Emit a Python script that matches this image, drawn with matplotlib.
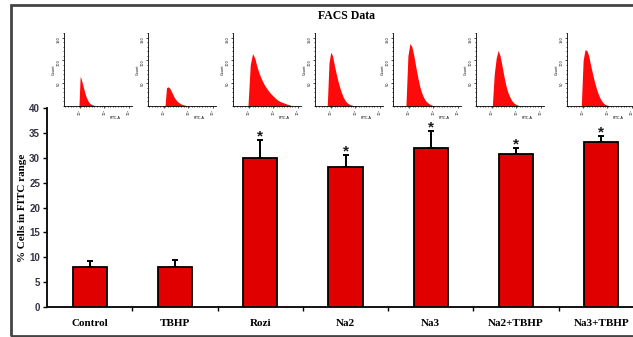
import matplotlib
matplotlib.use("Agg")
import matplotlib.pyplot as plt
import numpy as np
from matplotlib.patches import Rectangle

# ---------------- data ----------------
categories = ["Control", "TBHP", "Rozi", "Na2", "Na3", "Na2+TBHP", "Na3+TBHP"]
values = [8.0, 8.1, 30.0, 28.1, 32.0, 30.75, 33.2]
errors = [1.25, 1.3, 3.6, 2.5, 3.3, 1.25, 1.1]
significant = [False, False, True, True, True, True, True]
y_ticks = [0, 5, 10, 15, 20, 25, 30, 35, 40]

# FACS histogram insets (heights in counts)
hist_start = [0.22, 0.25, 0.22, 0.18, 0.19, 0.24, 0.21]
hist_end = [0.45, 0.58, 0.86, 0.57, 0.60, 0.64, 0.62]
hist_heights = [
    [0, 65, 58, 48, 38, 28, 20, 14, 9, 6, 4, 3, 2, 0],
    [0, 40, 42, 40, 34, 27, 20, 15, 11, 8, 6, 4, 3, 2, 1, 0],
    [0, 90, 115, 105, 85, 70, 58, 48, 40, 33, 27, 22, 17, 13, 10, 8, 6, 4, 3, 0],
    [0, 95, 118, 110, 90, 72, 56, 42, 30, 20, 13, 8, 5, 3, 2, 0],
    [0, 110, 137, 130, 110, 85, 62, 42, 28, 18, 11, 7, 4, 2, 0],
    [0, 70, 105, 122, 110, 88, 65, 45, 30, 20, 12, 7, 4, 2, 0],
    [0, 100, 123, 122, 110, 90, 72, 55, 40, 28, 18, 11, 6, 3, 2, 0],
]
inset_left_px = [64, 148, 233, 315, 393, 476, 567]
inset_ticklabels = ["10\u00b2", "10\u00b3", "10\u2074"]
inset_yticklabels = ["50", "100", "150"]

# ---------------- figure ----------------
W, H = 633, 337
fig = plt.figure(figsize=(W / 100, H / 100), dpi=100)
RED = "#E00000"
serif = "Liberation Serif"
sans = "Liberation Sans"

# outer border
fig.patches.append(Rectangle((11 / W, 1 - 336 / H), 640 / W, 331 / H,
                             transform=fig.transFigure, fill=False,
                             edgecolor="#444444", linewidth=2))

ax_l, ax_r = 47, 633
ax_b, ax_t = 307, 108
ax = fig.add_axes([ax_l / W, 1 - ax_b / H, (ax_r - ax_l) / W, (ax_b - ax_t) / H])
x = np.arange(len(categories))
ax.bar(x, values, width=0.40, color=RED, edgecolor="black", linewidth=1.3, zorder=3)
ax.errorbar(x, values, yerr=[np.zeros(len(errors)), errors], fmt="none",
            ecolor="black", elinewidth=1.4, capsize=2.5, capthick=1.4, zorder=2)
for xi, v, e, s in zip(x, values, errors, significant):
    if s:
        ax.text(xi, v + e - 0.7, "*", ha="center", va="bottom", fontsize=11,
                fontweight="bold", family=sans, color="#1a1a1a")

ax.set_xlim(-0.5, 6.37)
ax.set_ylim(0, 40)
ax.set_yticks(y_ticks)
ax.set_yticklabels([str(t) for t in y_ticks], fontsize=7, fontweight="bold",
                   family=sans, color="#333344")
ax.set_xticks(x)
ax.set_xticklabels(categories, fontsize=8, fontweight="bold", family=serif)
ax.set_xticks(np.arange(-0.5, 6.5, 1.0)[1:], minor=True)
ax.tick_params(axis="x", which="major", length=0, pad=9)
ax.tick_params(axis="x", which="minor", length=3, width=1, direction="out")
ax.tick_params(axis="y", length=3, width=1, direction="out", pad=2)
for sp in ["top", "right"]:
    ax.spines[sp].set_visible(False)
ax.spines["left"].set_linewidth(1.3)
ax.spines["bottom"].set_linewidth(1.3)
ax.set_ylabel("% Cells in FITC range", fontsize=8, fontweight="bold", family=serif)
ax.yaxis.set_label_coords(-0.034, 0.5)
ax.patch.set_alpha(0)

fig.text(347 / W, 1 - 16 / H, "FACS Data", ha="center", va="center", fontsize=8.5,
         fontweight="bold", family=serif)

# insets
for i, left in enumerate(inset_left_px):
    base, top, wpx = 106, 33, 68
    iax = fig.add_axes([left / W, 1 - base / H, wpx / W, (base - top) / H])
    hts = hist_heights[i]
    xs = np.linspace(hist_start[i], hist_end[i], len(hts))
    iax.fill_between(xs, 0, hts, color="#FF0A0A", linewidth=0)
    iax.set_xlim(0, 1)
    iax.set_ylim(0, 160)
    iax.set_xticks([0.23, 0.59, 0.95])
    iax.set_xticklabels(inset_ticklabels, fontsize=2.5, rotation=90)
    iax.set_xticks(np.linspace(0.02, 0.95, 25), minor=True)
    iax.set_yticks([50, 100, 150])
    iax.set_yticklabels(inset_yticklabels, fontsize=2.5, rotation=90)
    iax.set_yticks(np.arange(0, 161, 10), minor=True)
    iax.tick_params(which="both", length=1.2, width=0.5, pad=1)
    iax.tick_params(which="minor", length=0.8)
    for sp in ["top", "right"]:
        iax.spines[sp].set_visible(False)
    iax.spines["left"].set_linewidth(0.6)
    iax.spines["bottom"].set_linewidth(0.6)
    iax.set_xlabel("FITC-A", fontsize=2.5, labelpad=1, x=0.75)
    iax.set_ylabel("Count", fontsize=2.5, labelpad=1)
    iax.patch.set_alpha(0)

fig.savefig("out.png", dpi=100)
